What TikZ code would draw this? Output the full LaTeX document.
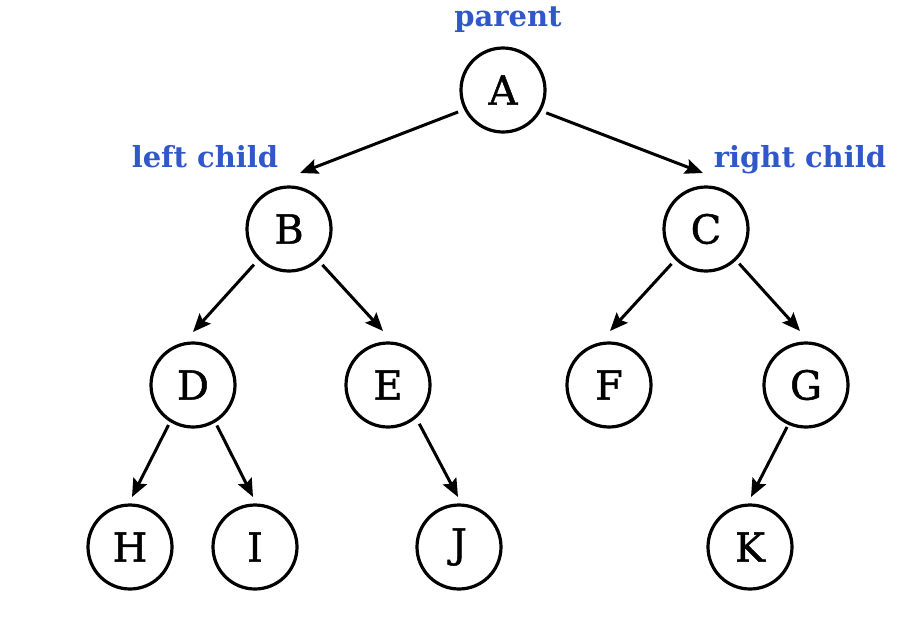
\documentclass[tikz,border=0pt]{standalone}
\usepackage{fontspec}
\setmainfont{DejaVu Serif}
\newfontfamily\nodefont[FakeBold=1.2]{DejaVu Serif}
\usetikzlibrary{arrows.meta}
\definecolor{lblue}{RGB}{48,88,200}
\tikzset{
  tn/.style={circle,draw,line width=3.2pt,minimum size=84pt,inner sep=0pt,outer sep=0pt,font=\nodefont\fontsize{40}{44}\selectfont},
  lbl/.style={text=lblue,font=\bfseries\fontsize{29}{31}\selectfont,inner sep=0pt,anchor=base},
  ar/.style={line width=3pt,-{Stealth[length=18pt,width=15pt,inset=3pt]}}
}
\begin{document}
\begin{tikzpicture}[x=1pt,y=-1pt]
\useasboundingbox (0,0) rectangle (908,622);
\node[tn] (A) at (503,90) {A};
\node[tn] (B) at (289,229) {B};
\node[tn] (C) at (706,229) {C};
\node[tn] (D) at (193,385) {D};
\node[tn] (E) at (388,385) {E};
\node[tn] (F) at (609,385) {F};
\node[tn] (G) at (806,385) {G};
\node[tn] (H) at (130,547) {H};
\node[tn] (I) at (255,547) {I};
\node[tn] (J) at (459,547) {J};
\node[tn] (K) at (750,547) {K};
\node[lbl] (lp) at (508,26) {parent};
\node[lbl] (ll) at (205,167) {left child};
\node[lbl] (lr) at (800,167) {right child};
\draw[ar,shorten <=8pt] (A.207) -- ([xshift=11pt,yshift=14pt]B.north);
\draw[ar,shorten <=7pt] (A.331) -- ([xshift=-3pt,yshift=14pt]C.north);
\draw[ar,shorten <=8pt] (B.225) -- ([xshift=0pt,yshift=11pt]D.north);
\draw[ar,shorten <=7pt] (B.313) -- ([xshift=-5pt,yshift=12pt]E.north);
\draw[ar,shorten <=7pt] (C.225) -- ([xshift=1pt,yshift=12pt]F.north);
\draw[ar,shorten <=6pt] (C.314) -- ([xshift=-6pt,yshift=12pt]G.north);
\draw[ar,shorten <=5pt] (D.238) -- ([xshift=2pt,yshift=8pt]H.north);
\draw[ar,shorten <=5pt] (D.301) -- ([xshift=-2pt,yshift=8pt]I.north);
\draw[ar,shorten <=8pt] (E.311) -- ([xshift=-1pt,yshift=8pt]J.north);
\draw[ar,shorten <=4pt] (G.246) -- ([xshift=1pt,yshift=8pt]K.north);
\end{tikzpicture}
\end{document}
